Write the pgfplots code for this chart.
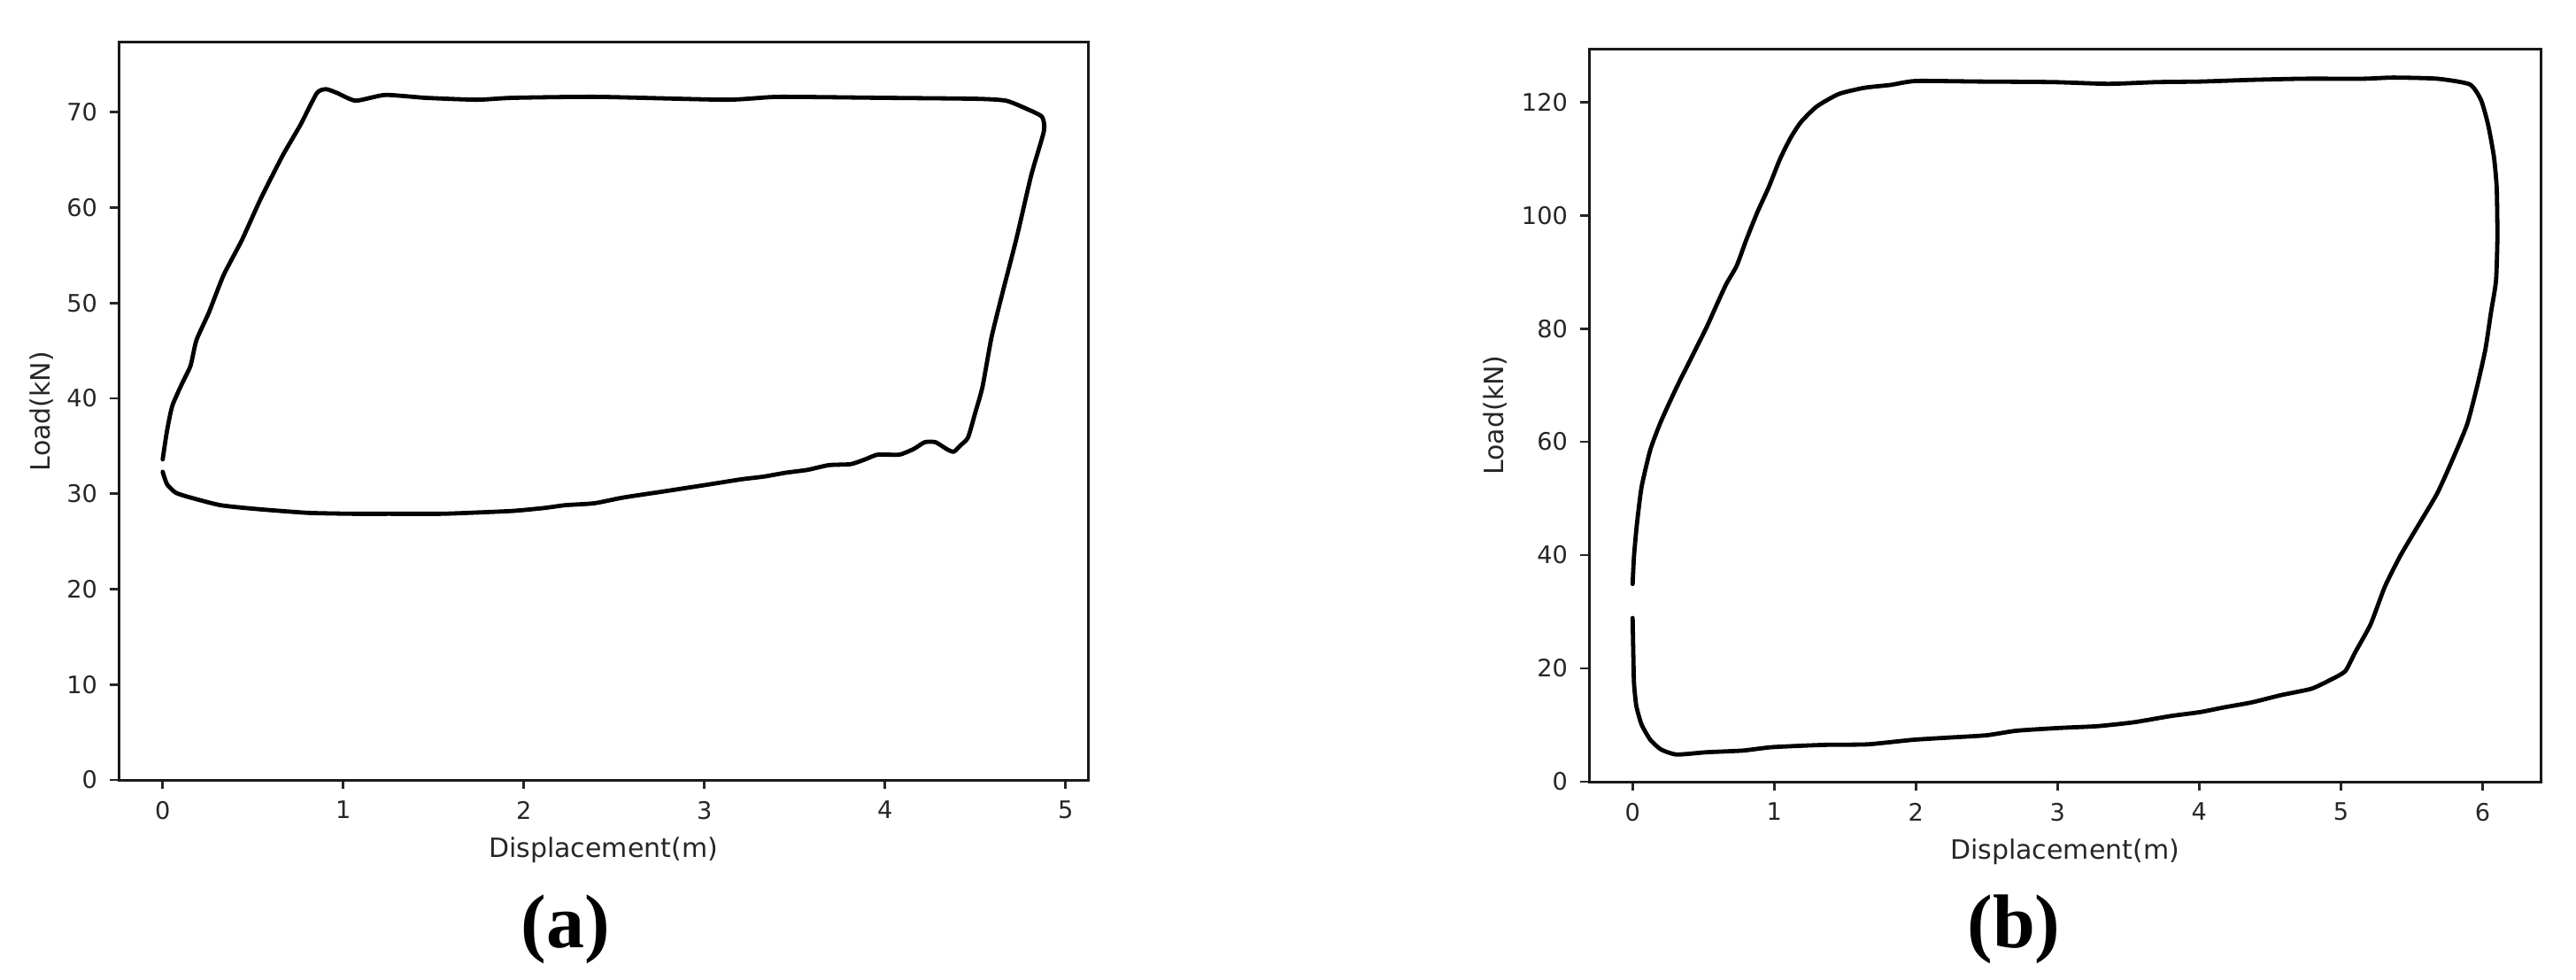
\documentclass[border=0pt]{standalone}
\usepackage{fontspec}
\setmainfont{DejaVu Sans}
\newfontfamily\capfont{Liberation Serif}
\usepackage{pgfplots}
\pgfplotsset{compat=1.18}

% 1 px of the reference = 0.25pt
\newcommand\lblfont{\fontsize{7.5}{9}\selectfont}
\pgfplotsset{
  mpl/.style={
    scale only axis,
    anchor=south west,
    axis line style={black!90, line width=0.75pt},
    tick align=outside,
    xtick pos=left, ytick pos=left,
    major tick length=2.5pt,
    every tick/.style={black!85, line width=0.7pt},
    tick label style={font=\fontsize{6.8}{8}\selectfont, text=black!85},
    /pgf/number format/assume math mode=true,
  },
  loop/.style={black, no markers, smooth, tension=0.35, line width=1.2pt, line join=round, line cap=round},
}

\begin{document}
\begin{tikzpicture}
\useasboundingbox (0,0) rectangle (727.5pt,276.5pt);

% (a)
\begin{axis}[mpl,
  at={(33.5pt,56.25pt)}, width=273.75pt, height=208.25pt,
  xmin=-0.244, xmax=5.124, ymin=0, ymax=77.3,
  xtick={0,1,2,3,4,5}, ytick={0,10,20,30,40,50,60,70},
  xlabel={Displacement(m)}, ylabel={Load(kN)},
  every axis x label/.style={at={(axis description cs:0.5,-0.0948)}, anchor=center, font=\lblfont, text=black!85},
  every axis y label/.style={at={(axis description cs:-0.0795,0.5)}, rotate=90, anchor=center, font=\lblfont, text=black!85},
  ]
  \addplot[loop] coordinates {
    (0,33.6) (0.024,36.6) (0.053,39.2) (0.106,41.5) (0.154,43.4) (0.187,46.1)
    (0.256,49.0) (0.337,52.9) (0.439,56.6) (0.54,60.8) (0.663,65.4) (0.764,68.7)
    (0.854,72.0) (0.906,72.4) (0.967,72.0) (1.069,71.2) (1.232,71.8) (1.455,71.5)
    (1.74,71.3) (1.94,71.5) (2.41,71.6) (3.12,71.3) (3.41,71.6) (3.98,71.5)
    (4.50,71.4) (4.67,71.2) (4.79,70.3) (4.87,69.5) (4.88,68.0) (4.81,63.4)
    (4.73,56.9) (4.65,51.0) (4.59,46.4) (4.54,41.2) (4.50,38.5) (4.46,35.9)
    (4.42,35.1) (4.38,34.4) (4.34,34.7) (4.28,35.4) (4.22,35.4) (4.16,34.7)
    (4.08,34.1) (3.96,34.1) (3.89,33.6) (3.81,33.1) (3.69,33.0) (3.57,32.5)
    (3.45,32.2) (3.33,31.8) (3.20,31.5) (3.0,30.9) (2.76,30.2) (2.55,29.6)
    (2.39,29.0) (2.23,28.8) (2.11,28.5) (1.94,28.2) (1.70,28.0) (1.54,27.9)
    (1.25,27.9) (1.05,27.9) (0.80,28.0) (0.52,28.4) (0.32,28.8) (0.154,29.6)
    (0.073,30.1) (0.024,31.0) (0,32.3)
  };
\end{axis}

% (b)
\begin{axis}[mpl,
  at={(448.75pt,55.75pt)}, width=268.75pt, height=207pt,
  xmin=-0.308, xmax=6.41, ymin=0, ymax=129.4,
  xtick={0,1,2,3,4,5,6}, ytick={0,20,40,60,80,100,120},
  xlabel={Displacement(m)}, ylabel={Load(kN)},
  every axis x label/.style={at={(axis description cs:0.5,-0.0954)}, anchor=center, font=\lblfont, text=black!85},
  every axis y label/.style={at={(axis description cs:-0.099,0.5)}, rotate=90, anchor=center, font=\lblfont, text=black!85},
  ]
  \addplot[loop] coordinates {
    (0,34.9) (0.01,39.9) (0.03,45.4) (0.063,52.0) (0.125,58.6) (0.2,63.6)
    (0.31,69.6) (0.41,74.6) (0.52,80.1) (0.59,84.0) (0.66,87.8) (0.735,91.1)
    (0.80,95.5) (0.88,100.5) (0.96,104.9) (1.04,109.9) (1.116,113.7) (1.19,116.5)
    (1.30,119.2) (1.455,121.4) (1.637,122.5) (1.82,123.0) (2.0,123.7) (2.445,123.6)
    (2.97,123.5) (3.36,123.2) (3.70,123.5) (4.01,123.6) (4.37,123.9) (4.74,124.1)
    (5.16,124.1) (5.37,124.3) (5.68,124.1) (5.91,123.1) (5.99,120.3) (6.04,115.9)
    (6.08,110.4) (6.10,104.9) (6.105,96.1) (6.095,88.4) (6.06,82.9) (6.02,76.3)
    (5.96,69.6) (5.89,63.0) (5.78,56.4) (5.68,50.9) (5.55,45.4) (5.42,39.9)
    (5.31,34.4) (5.21,27.8) (5.10,22.8) (5.03,19.5) (4.92,17.9) (4.79,16.4)
    (4.58,15.3) (4.37,14.0) (4.17,13.1) (4.01,12.3) (3.80,11.6) (3.54,10.5)
    (3.28,9.8) (3.02,9.5) (2.71,9.0) (2.50,8.2) (2.24,7.8) (1.98,7.4)
    (1.66,6.6) (1.35,6.5) (0.985,6.1) (0.78,5.5) (0.52,5.2) (0.31,4.8)
    (0.20,5.7) (0.125,7.4) (0.063,10.1) (0.026,13.4) (0.01,17.3) (0.005,22.3)
    (0,28.9)
  };
\end{axis}

\node[font=\capfont\bfseries\fontsize{21.5}{24}\selectfont] at (159.75pt,14pt) {(a)};
\node[font=\capfont\bfseries\fontsize{21.5}{24}\selectfont] at (568.75pt,14pt) {(b)};
\end{tikzpicture}
\end{document}
